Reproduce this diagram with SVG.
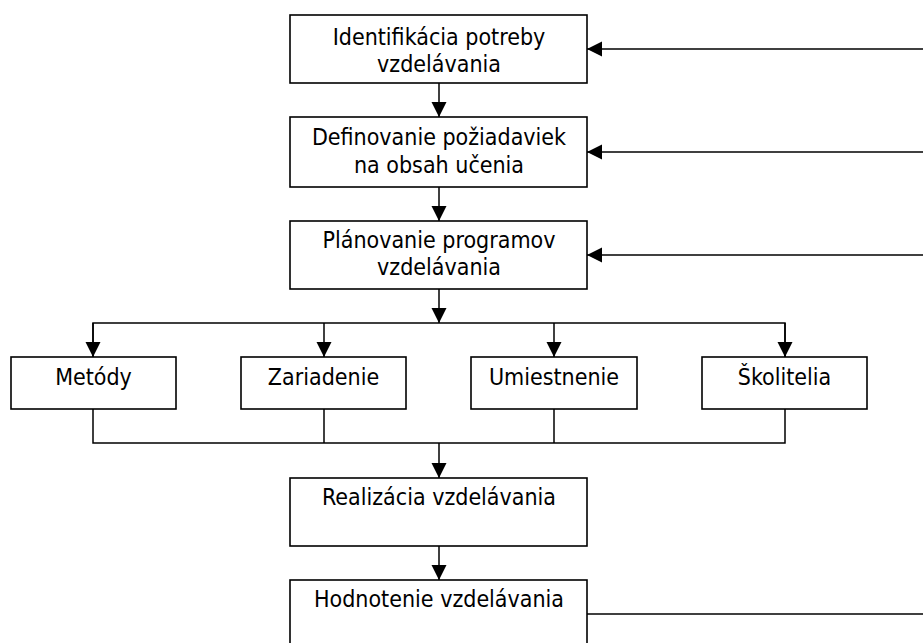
<svg xmlns="http://www.w3.org/2000/svg" width="923" height="643" viewBox="0 0 923 643">
<style>
.box{fill:#fff;stroke:#000;stroke-width:1.6}
.ln{fill:none;stroke:#000;stroke-width:1.5}
text{font-family:"DejaVu Sans Condensed","DejaVu Sans",sans-serif;font-stretch:condensed;font-size:23px;fill:#000;text-anchor:middle}
</style>
<defs>
<marker id="ah" markerUnits="userSpaceOnUse" markerWidth="16" markerHeight="16" viewBox="0 0 16 16" refX="15" refY="8" orient="auto">
<path d="M0,0.5 L15,8 L0,15.5 z" fill="#000"/>
</marker>
</defs>
<g id="connectors">
<line class="ln" x1="439" y1="83" x2="439" y2="117" marker-end="url(#ah)"/>
<line class="ln" x1="439" y1="187" x2="439" y2="221" marker-end="url(#ah)"/>
<line class="ln" x1="439" y1="289" x2="439" y2="323" marker-end="url(#ah)"/>
<polyline class="ln" points="93,357 93,323 785,323 785,357"/>
<line class="ln" x1="93" y1="323" x2="93" y2="357" marker-end="url(#ah)"/>
<line class="ln" x1="324" y1="323" x2="324" y2="357" marker-end="url(#ah)"/>
<line class="ln" x1="554" y1="323" x2="554" y2="357" marker-end="url(#ah)"/>
<line class="ln" x1="785" y1="323" x2="785" y2="357" marker-end="url(#ah)"/>
<polyline class="ln" points="93,409 93,443 785,443 785,409"/>
<line class="ln" x1="324" y1="409" x2="324" y2="443"/>
<line class="ln" x1="554" y1="409" x2="554" y2="443"/>
<line class="ln" x1="439" y1="443" x2="439" y2="478" marker-end="url(#ah)"/>
<line class="ln" x1="439" y1="546" x2="439" y2="580" marker-end="url(#ah)"/>
<line class="ln" x1="923" y1="49" x2="587" y2="49" marker-end="url(#ah)"/>
<line class="ln" x1="923" y1="152" x2="587" y2="152" marker-end="url(#ah)"/>
<line class="ln" x1="923" y1="255" x2="587" y2="255" marker-end="url(#ah)"/>
<line class="ln" x1="587" y1="614" x2="923" y2="614"/>
</g>
<g id="n1"><rect class="box" x="290" y="15" width="297" height="68"/><text x="439" y="45">Identifikácia potreby</text><text x="439" y="72">vzdelávania</text></g>
<g id="n2"><rect class="box" x="290" y="117" width="297" height="70"/><text x="439" y="145">Definovanie požiadaviek</text><text x="439" y="173">na obsah učenia</text></g>
<g id="n3"><rect class="box" x="290" y="221" width="297" height="68"/><text x="439" y="248">Plánovanie programov</text><text x="439" y="275">vzdelávania</text></g>
<g id="n4"><rect class="box" x="11" y="357" width="165" height="52"/><text x="93.5" y="385">Metódy</text></g>
<g id="n5"><rect class="box" x="241" y="357" width="165" height="52"/><text x="323.5" y="385">Zariadenie</text></g>
<g id="n6"><rect class="box" x="471" y="357" width="166" height="52"/><text x="554" y="385">Umiestnenie</text></g>
<g id="n7"><rect class="box" x="702" y="357" width="165" height="52"/><text x="784.5" y="385">Školitelia</text></g>
<g id="n8"><rect class="box" x="290" y="478" width="297" height="68"/><text x="439" y="505">Realizácia vzdelávania</text></g>
<g id="n9"><rect class="box" x="290" y="580" width="297" height="80"/><text x="439" y="607">Hodnotenie vzdelávania</text></g>
</svg>
